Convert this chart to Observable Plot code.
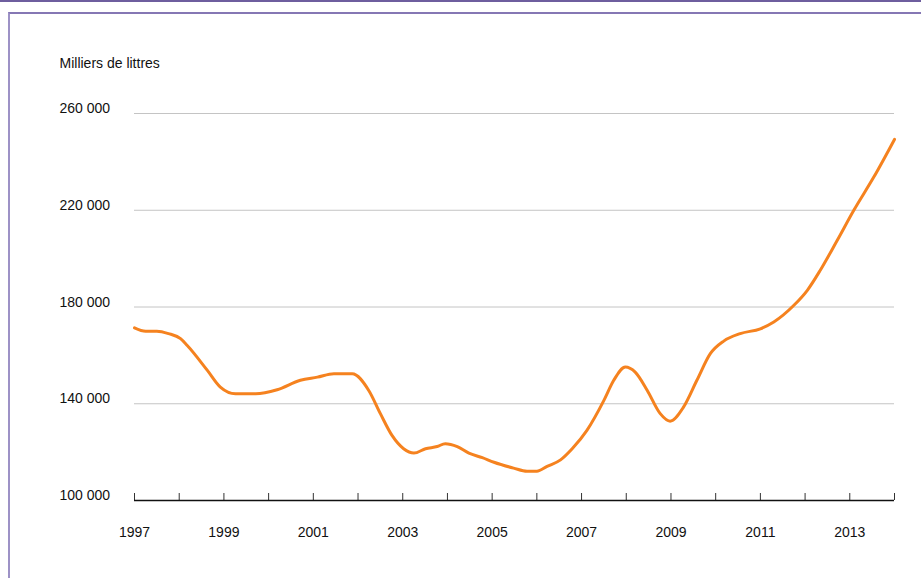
<!DOCTYPE html>
<html><head><meta charset="utf-8">
<script src="https://cdn.jsdelivr.net/npm/d3@7"></script>
<script src="https://cdn.jsdelivr.net/npm/@observablehq/plot@0.6"></script>
<style>
body{margin:0;background:#fff;}
#wrap{position:relative;width:921px;height:578px;overflow:hidden;font-family:"Liberation Sans",Arial,sans-serif;}
#chart{position:absolute;left:0;top:0;}
#topline{position:absolute;left:0;top:0;width:921px;height:0;border-top:2px solid #6e5e9e;}
#frame{position:absolute;left:8px;top:12px;right:-5px;bottom:-5px;border-top:2px solid #8577b4;border-left:2px solid #9d92c6;}
</style></head>
<body><div id="wrap"><div id="chart"></div><div id="topline"></div><div id="frame"></div></div>
<script>
// Decimal years and values (thousands of litres)
const years = [1997.0, 1997.25, 1997.5, 1997.76, 1998.03, 1998.18, 1998.63, 1998.92, 1999.26, 1999.71,
  2000.19, 2000.71, 2001.09, 2001.46, 2001.87, 2002.24, 2002.5, 2002.76, 2003.02, 2003.25,
  2003.51, 2003.77, 2003.95, 2004.22, 2004.48, 2004.78, 2005.04, 2005.48, 2005.78, 2006.0,
  2006.23, 2006.53, 2006.79, 2007.12, 2007.5, 2007.72, 2007.98, 2008.2, 2008.47, 2008.76,
  2008.98, 2009.28, 2009.58, 2009.88, 2010.18, 2010.55, 2011.0, 2011.3, 2011.75, 2012.05,
  2012.34, 2012.72, 2013.09, 2013.54, 2014.0];
const values = [171400, 170000, 170000, 169000, 166900, 164100, 153800, 146900, 144150, 144150,
  145800, 149700, 151000, 152400, 152400, 145500, 135900, 126900, 121400, 119600,
  121400, 122300, 123500, 122300, 119600, 117700, 115800, 113400, 112100, 112100,
  114100, 116800, 121400, 129000, 141400, 149700, 155200, 153100, 145500, 135900,
  132800, 138600, 149700, 160700, 165900, 169000, 171000, 173800, 180700, 186900,
  195200, 207600, 220000, 233800, 249300];
const yTicks = [100000, 140000, 180000, 220000, 260000];
const xTicks = [1997, 1998, 1999, 2000, 2001, 2002, 2003, 2004, 2005, 2006, 2007, 2008, 2009, 2010, 2011, 2012, 2013, 2014];
const xLabels = [1997, 1999, 2001, 2003, 2005, 2007, 2009, 2011, 2013];
const unitLabel = "Milliers de littres";

const data = years.map((y, i) => ({year: y, value: values[i]}));
const fmt = d => d3.format(",")(d).replace(/,/g, "\u00a0");

const chart = Plot.plot({
  width: 921, height: 578,
  marginLeft: 134, marginRight: 27, marginTop: 113, marginBottom: 78,
  style: {fontFamily: "'Liberation Sans', Arial, sans-serif", fontSize: "14px", color: "#1a1a1a", background: "transparent", overflow: "visible"},
  x: {domain: [1997, 2014], label: null},
  y: {domain: [100000, 260000], label: null},
  marks: [
    Plot.gridY(yTicks.slice(1), {stroke: "#c4c4c4", strokeOpacity: 1, strokeWidth: 1}),
    Plot.axisY(yTicks, {tickSize: 0, tickPadding: 75, textAnchor: "start", lineAnchor: "bottom", dy: -0.5, tickFormat: fmt, fill: "#111", label: null}),
    Plot.axisX(xTicks, {tickSize: -7, tickFormat: () => "", stroke: "#333", label: null}),
    Plot.axisX(xLabels, {tickSize: 0, tickPadding: 26.5, tickFormat: d => String(d), fill: "#111", label: null}),
    Plot.ruleY([100000], {stroke: "#111", strokeWidth: 1.3}),
    Plot.line(data, {x: "year", y: "value", stroke: "#f5821f", strokeWidth: 3, curve: "monotone-x", strokeLinejoin: "round"}),
    Plot.text([unitLabel], {frameAnchor: "top-left", dx: -75, dy: -45.7, textAnchor: "start", lineAnchor: "bottom", fontSize: 14, fill: "#111"})
  ]
});
document.getElementById("chart").appendChild(chart);
</script>
</body></html>
